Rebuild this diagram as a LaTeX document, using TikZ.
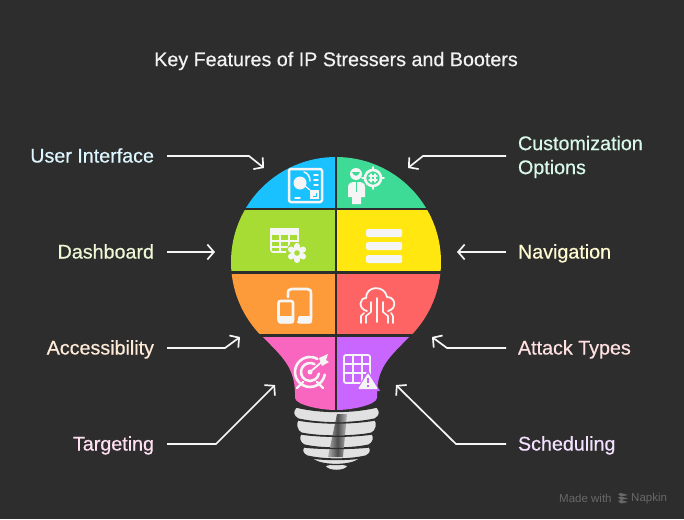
\documentclass[tikz,border=0pt]{standalone}
\usepackage{fontspec}
\setmainfont{Liberation Sans}
\newfontfamily\lblfont{Liberation Sans}[RawFeature={embolden=0.5}]
\definecolor{bgdark}{HTML}{2D2D2D}
\definecolor{icon}{HTML}{F5F5F5}
\definecolor{cblue}{HTML}{19C1FF}
\definecolor{cgreen}{HTML}{3EDB96}
\definecolor{clime}{HTML}{A6DC33}
\definecolor{cyellow}{HTML}{FFE70F}
\definecolor{corange}{HTML}{FD9A3A}
\definecolor{cred}{HTML}{FF6464}
\definecolor{cpink}{HTML}{F966BF}
\definecolor{cpurple}{HTML}{C966FF}
\usetikzlibrary{arrows.meta}
\begin{document}
\begin{tikzpicture}
	[x=1pt,y=-1pt,
	lbl/.style={inner sep=0pt,outer xsep=13pt,text height=17pt,text depth=4pt,font=\fontsize{19.7}{24}\selectfont\lblfont},
	lleft/.style={lbl,anchor=east},
	lright/.style={lbl,outer xsep=12pt,anchor=west},
	link/.style={line width=1.7pt,draw=icon,-{Straight Barb[length=6.5pt,width=15pt,line width=1.7pt]}},
	ico/.style={draw=icon,line width=2.2pt,line cap=round,line join=round},
	icof/.style={fill=icon},
	thread/.style={fill=icon!92!black,draw=bgdark,line width=1.3pt}]
    \useasboundingbox[fill=bgdark] (0,0) rectangle (684,519);

    \node[font=\fontsize{19.7}{24}\selectfont\lblfont,text=white!95!black] (title) at (336,61) {Key Features of IP Stressers and Booters};

    % bulb
    \begin{scope}
    	\clip (336,262) circle (105pt);
    	\fill[cblue] (230,150) rectangle (336,209);
    	\fill[cgreen] (336,150) rectangle (442,209);
    	\fill[clime] (230,209) rectangle (336,272);
    	\fill[cyellow] (336,209) rectangle (442,272);
    	\fill[corange] (230,272) rectangle (336,336);
    	\fill[cred] (336,272) rectangle (442,336);
    \end{scope}
    \fill[cpink] (262,336) .. controls (280,355) and (294,365) .. (295,392) -- (295,398) .. controls (296,405) and (320,410) .. (336,410) -- (336,336) -- cycle;
    \fill[cpurple] (410,336) .. controls (392,355) and (378,365) .. (377,392) -- (377,398) .. controls (376,405) and (352,410) .. (336,410) -- (336,336) -- cycle;
    \draw[bgdark,line width=2.6pt] (336,150) -- (336,411);
    \draw[bgdark,line width=2.6pt] (230,209) -- (442,209);
    \draw[bgdark,line width=2.6pt] (230,272.5) -- (442,272.5);
    \draw[bgdark,line width=2.6pt] (230,335.5) -- (442,335.5);

    % screw base
    \fill[icon!92!black] (326,466) .. controls (332,464) and (341,464) .. (347,466) .. controls (344,471) and (329,471) .. (326,466) -- cycle;
    \draw[thread] (311,457) .. controls (325,459) and (347,459) .. (361,457) .. controls (356,467) and (316,467) .. (311,457) -- cycle;
    \foreach \xa/\xb/\ya/\yb in {304/369/446/458,301/372/433/447,298/375/419/435}
    	\draw[thread] (\xa,\ya) .. controls (\xa+20,\ya+3) and (\xb-20,\ya+3) .. (\xb,\ya) .. controls (\xb+3,\ya+5) and (\xb+1,\yb-4) .. (\xb-3,\yb-2) .. controls (\xb-20,\yb+2) and (\xa+20,\yb+2) .. (\xa+3,\yb-2) .. controls (\xa-1,\yb-4) and (\xa-3,\ya+5) .. (\xa,\ya) -- cycle;
    \draw[thread] (296,407) .. controls (320,413) and (352,413) .. (377,407) .. controls (381,412) and (380,416) .. (375,419) .. controls (352,424) and (320,424) .. (298,419) .. controls (293,416) and (292,412) .. (296,407) -- cycle;
    \shade[left color=icon!70!black,right color=icon!75!black,middle color=black!70] (337,414) -- (347,414) -- (343,457) -- (328,457) -- cycle;
    \draw[bgdark,line width=1.3pt] (298,420) .. controls (320,424) and (352,424) .. (375,420);
    \draw[bgdark,line width=1.3pt] (301,434) .. controls (320,437) and (352,437) .. (372,434);
    \draw[bgdark,line width=1.3pt] (304,447) .. controls (320,449) and (352,449) .. (369,447);
    \draw[bgdark,line width=1.3pt] (311,458) .. controls (325,460) and (347,460) .. (361,458);

    % user interface icon
    \draw[ico,line width=2.5pt,rounded corners=2pt] (289,169) rectangle (322,202);
    \fill[icof] (300,183) circle (6.5pt);
    \draw[ico,line width=1.5pt] (304,172) .. controls (308,173) and (310,177) .. (310,181);
    \draw[ico,line width=1.5pt] (314,175) -- (318,175) (314,180) -- (318,180) (314,185) -- (318,185) (295,198) -- (300,198);
    \fill[icof] (310,190) rectangle (319,199);
    \draw[cblue,line width=1pt] (316,193) -- (316,196) -- (313,196);
    \draw[ico,line width=1.2pt] (305,186) -- (310,190);

    % customization icon
    \fill[icof] (356,174) circle (6pt);
    \fill[cgreen] (352,172) .. controls (354,177) and (358,177) .. (360,172) -- cycle;
    \fill[icof] (348,197) -- (348,187) .. controls (348,183) and (352,182) .. (354,182) -- (358,182) .. controls (362,182) and (365,183) .. (365,187) -- (365,197) -- (361,197) -- (361,204) -- (352,204) -- (352,197) -- cycle;
    \draw[cgreen,line width=1.5pt] (356.5,182) -- (356.5,192);
    \draw[ico,line width=2.6pt] (373,178) circle (8pt);
    \draw[ico,line width=1.8pt] (373,167) -- (373,170) (373,186) -- (373,189) (362,178) -- (365,178) (381,178) -- (384,178);
    \draw[ico,line width=1.2pt] (371,174) -- (371,182) (375,174) -- (375,182) (369,176) -- (377,176) (369,180) -- (377,180);

    % dashboard icon
    \draw[ico,line width=1.6pt,rounded corners=2pt] (271,229) rectangle (298,252);
    \fill[icof] (270,228) rectangle (299,235);
    \draw[ico,line width=1.4pt] (271,241) -- (298,241) (271,247) -- (290,247) (280,235) -- (280,252) (289,235) -- (289,250);
    \fill[clime] (297,253) circle (11pt);
    \foreach \a in {30,90,...,330}
    	\fill[icof] (297,253) ++(\a:7pt) circle (3pt);
    \fill[icof] (297,253) circle (6.5pt);
    \fill[clime] (297,253) circle (2.8pt);

    % navigation icon
    \foreach \y in {229,242,255}
    	\fill[icon,rounded corners=1.5pt] (366,\y) rectangle (402,\y+8);

    % accessibility icon
    \draw[ico,line width=2.6pt] (288,297) -- (288,294) .. controls (288,290) and (289,289) .. (292,289) -- (307,289) .. controls (310,289) and (311,290) .. (311,294) -- (311,318) .. controls (311,321) and (310,322) .. (307,322) -- (298,322);
    \draw[ico,line width=2.6pt,rounded corners=2pt] (278.5,301) rectangle (293,322);
    \fill[icof,rounded corners=2pt] (278,316) rectangle (294,323.5);
    \fill[icof,rounded corners=2pt] (298,316) rectangle (312,323.5);

    % attack types icon
    \draw[ico,line width=1.8pt] (367,311) .. controls (358,309) and (359,298) .. (366,298) .. controls (366,285) and (385,285) .. (387,297) .. controls (396,297) and (397,309) .. (388,311);
    \draw[ico,line width=1.6pt] (377,298) -- (377,322) (371,302) -- (371,312) -- (366,316) -- (366,323) (383,302) -- (383,312) -- (388,316) -- (388,323) (364,313) -- (361,316) -- (361,323) (391,313) -- (393,316) -- (393,323);

    % targeting icon
    \draw[ico,line width=2.6pt] (317.5,359) arc (60:350:15pt);
    \draw[ico,line width=2.6pt] (314.5,364.2) arc (60:350:9pt);
    \fill[icof] (310,372) circle (2.5pt);
    \draw[ico,line width=1.8pt] (310,372) -- (324,360);
    \fill[icof] (319,358) -- (328,354) -- (326,360) -- (329,362) -- (322,366) -- cycle;
    \draw[ico] (297,388) -- (303,382) (323,388) -- (317,382);

    % scheduling icon
    \draw[ico,line width=1.8pt,rounded corners=2pt] (344,355) rectangle (370,383);
    \draw[ico,line width=1.6pt] (344,364) -- (370,364) (344,373) -- (370,373) (353,355) -- (353,383) (362,355) -- (362,383);
    \fill[cpurple] (368,370) -- (380,391) -- (356,391) -- cycle;
    \fill[icon,rounded corners=1pt] (368,373) -- (378,389) -- (358,389) -- cycle;
    \draw[cpurple,line width=1.7pt] (368,378) -- (368,383) (368,385) -- (368,386.6);

    % labels
    \node[lleft,text=cblue!15!white] (ui) at (167,156) {User Interface};
    \node[lleft,text=clime!20!white] (dash) at (167,252) {Dashboard};
    \node[lleft,text=corange!20!white] (acc) at (167,348) {Accessibility};
    \node[lleft,text=cpink!20!white] (targ) at (167,444) {Targeting};
    \node[anchor=west,align=left,inner sep=0pt,outer xsep=12pt,font=\fontsize{19.7}{24}\selectfont\lblfont,text=cgreen!20!white] (cust) at (506,157) {Customization\\Options};
    \node[lright,text=cyellow!20!white] (nav) at (506,252) {Navigation};
    \node[lright,text=cred!20!white] (att) at (506,348) {Attack Types};
    \node[lright,text=cpurple!20!white] (sched) at (506,444) {Scheduling};

    \coordinate (ui-tip) at (264,168);
    \coordinate (cust-tip) at (408,168);
    \coordinate (cust-bend) at (423,156);
    \coordinate (dash-tip) at (215,252);
    \coordinate (nav-tip) at (457,252);
    \coordinate (acc-tip) at (240,337);
    \coordinate (att-tip) at (432,337);
    \coordinate (targ-tip) at (275,385);
    \coordinate (sched-tip) at (396,385);

    \draw[link] (ui.east) -- (249,156) -- (ui-tip);
    \draw[link] (cust.west |- cust-bend) -- (cust-bend) -- (cust-tip);
    \draw[link] (dash.east) -- (dash-tip);
    \draw[link] (nav.west) -- (nav-tip);
    \draw[link] (acc.east) -- (225,348) -- (acc-tip);
    \draw[link] (att.west) -- (447,348) -- (att-tip);
    \draw[link] (targ.east) -- (216,444) -- (targ-tip);
    \draw[link] (sched.west) -- (456,444) -- (sched-tip);

    % watermark
    \node[anchor=west,inner sep=0pt,font=\fontsize{11.5}{14}\selectfont,text=white!28!bgdark] (made) at (559,498.5) {Made with};
    \node[anchor=west,inner sep=0pt,font=\fontsize{11.5}{14}\selectfont,text=white!28!bgdark] (napkin) at (631,498.5) {Napkin};
    \foreach \y in {494,497.5,501}
    	\fill[white!28!bgdark] (618,\y) -- (621,\y-1) -- (628,\y+1) -- (621,\y+2.5) -- cycle;
\end{tikzpicture}
\end{document}
